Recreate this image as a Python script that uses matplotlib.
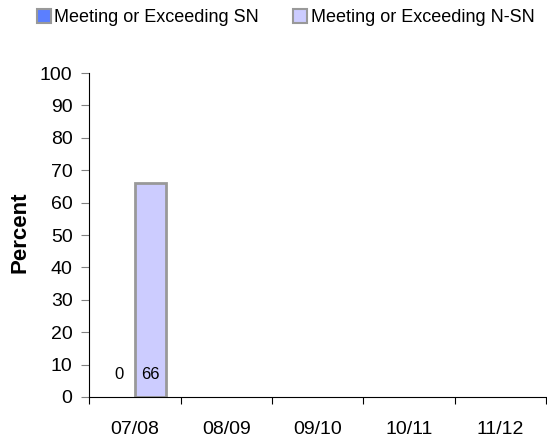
import numpy as np
import matplotlib.pyplot as plt
from matplotlib.patches import Patch

plt.rcParams['font.family'] = ['Liberation Sans', 'DejaVu Sans']

years = ['07/08', '08/09', '09/10', '10/11', '11/12']
sn_values = [0, None, None, None, None]
nsn_values = [66, None, None, None, None]

fig = plt.figure(figsize=(5.47, 4.41), dpi=100)
ax = fig.add_axes([0.163, 0.0998, 0.835, 0.7345])

x = np.arange(len(years)) + 0.5
width = 0.34
sn_color = '#5B7FFF'
nsn_color = '#CCCCFF'

for i, (sn, nsn) in enumerate(zip(sn_values, nsn_values)):
    if sn is not None:
        ax.bar(x[i] - width / 2, sn, width, color=sn_color, linewidth=0)
        ax.text(x[i] - width / 2, 7, f'{sn}', ha='center', va='center', fontsize=12)
    if nsn is not None:
        ax.bar(x[i] + width / 2, nsn, width, color=nsn_color, edgecolor='#999999', linewidth=2)
        ax.text(x[i] + width / 2, 7, f'{nsn}', ha='center', va='center', fontsize=12)

ax.set_xlim(0, len(years))
ax.set_ylim(0, 100)
ax.set_yticks(range(0, 101, 10))
ax.tick_params(axis='y', labelsize=14, length=6, pad=6, color='#808080')
ax.set_xticks(range(0, len(years) + 1))
ax.set_xticklabels([])
ax.set_xticks(x, minor=True)
ax.set_xticklabels(years, minor=True)
ax.tick_params(axis='x', which='major', length=5, direction='out')
ax.tick_params(axis='x', which='minor', length=0, labelsize=14, pad=17)

for side in ['top', 'right']:
    ax.spines[side].set_visible(False)
ax.set_ylabel('Percent', fontsize=16, fontweight='bold')
ax.yaxis.set_label_coords(-0.128, 0.51)

handles = [Patch(facecolor=sn_color, edgecolor='#999999', linewidth=1.5,
                 label='Meeting or Exceeding SN'),
           Patch(facecolor=nsn_color, edgecolor='#999999', linewidth=1.5,
                 label='Meeting or Exceeding N-SN')]
fig.legend(handles=handles, loc='upper left', bbox_to_anchor=(0.067, 0.979), ncol=2,
           frameon=False, fontsize=13, borderpad=0, borderaxespad=0,
           handlelength=0.78, handleheight=0.78, handletextpad=0.2, columnspacing=1.9)

fig.savefig('out.png', dpi=100)
